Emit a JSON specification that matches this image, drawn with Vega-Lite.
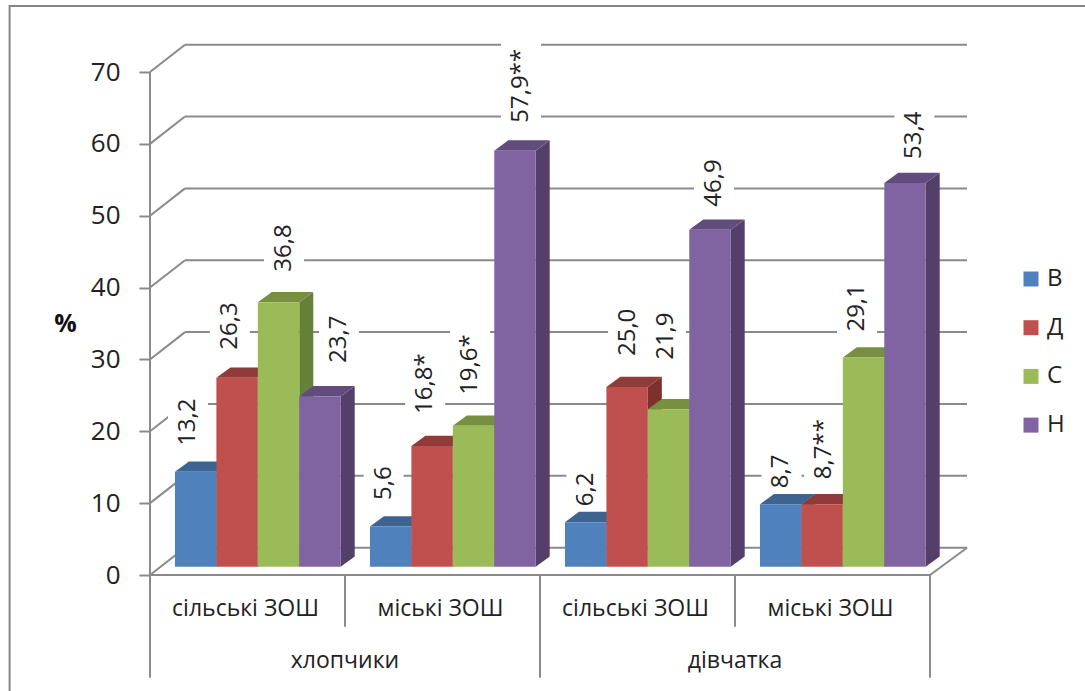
{
  "$schema": "https://vega.github.io/schema/vega-lite/v6.json",
  "autosize": {"type": "none"},
  "padding": {"left": 150, "top": 72, "right": 155, "bottom": 116},
  "width": 780,
  "height": 503,
  "background": "white",
  "config": {
    "font": "Open Sans",
    "view": {"stroke": null},
    "axisX": {"disable": true},
    "axisY": {
      "tickCount": 8, "grid": false, "domain": false,
      "tickColor": "#8a8a8a", "tickWidth": 2, "tickSize": 11, "labelFontSize": 26, "labelColor": "#222222", "labelPadding": 19,
      "titleAngle": 0, "titleFontSize": 25, "titleFontWeight": "bold", "titleColor": "#111111",
      "titleX": -85, "titleY": 251, "titleAlign": "center", "titleBaseline": "middle"
    }
  },
  "datasets": {
    "ticks": [{"tick": 0}, {"tick": 10}, {"tick": 20}, {"tick": 30}, {"tick": 40}, {"tick": 50}, {"tick": 60}, {"tick": 70}],
    "boundaries": [{"b": 0}, {"b": 1}, {"b": 2}, {"b": 3}, {"b": 4}]
  },
  "data": {
    "values": [
      {"group": "хлопчики", "school": "сільські ЗОШ", "series": "В", "value": 13.2, "label": "13,2"},
      {"group": "хлопчики", "school": "сільські ЗОШ", "series": "Д", "value": 26.3, "label": "26,3"},
      {"group": "хлопчики", "school": "сільські ЗОШ", "series": "С", "value": 36.8, "label": "36,8"},
      {"group": "хлопчики", "school": "сільські ЗОШ", "series": "Н", "value": 23.7, "label": "23,7"},
      {"group": "хлопчики", "school": "міські ЗОШ", "series": "В", "value": 5.6, "label": "5,6"},
      {"group": "хлопчики", "school": "міські ЗОШ", "series": "Д", "value": 16.8, "label": "16,8*"},
      {"group": "хлопчики", "school": "міські ЗОШ", "series": "С", "value": 19.6, "label": "19,6*"},
      {"group": "хлопчики", "school": "міські ЗОШ", "series": "Н", "value": 57.9, "label": "57,9**"},
      {"group": "дівчатка", "school": "сільські ЗОШ", "series": "В", "value": 6.2, "label": "6,2"},
      {"group": "дівчатка", "school": "сільські ЗОШ", "series": "Д", "value": 25.0, "label": "25,0"},
      {"group": "дівчатка", "school": "сільські ЗОШ", "series": "С", "value": 21.9, "label": "21,9"},
      {"group": "дівчатка", "school": "сільські ЗОШ", "series": "Н", "value": 46.9, "label": "46,9"},
      {"group": "дівчатка", "school": "міські ЗОШ", "series": "В", "value": 8.7, "label": "8,7"},
      {"group": "дівчатка", "school": "міські ЗОШ", "series": "Д", "value": 8.7, "label": "8,7**"},
      {"group": "дівчатка", "school": "міські ЗОШ", "series": "С", "value": 29.1, "label": "29,1"},
      {"group": "дівчатка", "school": "міські ЗОШ", "series": "Н", "value": 53.4, "label": "53,4"}
    ]
  },
  "transform": [
    {"calculate": "(datum.group === 'дівчатка' ? 2 : 0) + (datum.school === 'міські ЗОШ' ? 1 : 0)", "as": "cat"},
    {"calculate": "datum.cat + 0.128 + indexof(['В', 'Д', 'С', 'Н'], datum.series) * 0.2125", "as": "left"},
    {"calculate": "datum.left + 0.2125", "as": "right"},
    {"calculate": "0", "as": "base"}
  ],
  "layer": [
    {
      "description": "Outer chart border, running off the right and bottom edges",
      "data": {"values": [{"frame": "outer"}]},
      "transform": [
        {"calculate": "-0.72", "as": "x1"}, {"calculate": "4.9", "as": "x2"},
        {"calculate": "79.2", "as": "y1"}, {"calculate": "-18", "as": "y2"}
      ],
      "mark": {"type": "rect", "filled": false, "stroke": "#868686", "strokeWidth": 2},
      "encoding": {
        "x": {"field": "x1", "type": "quantitative", "scale": {"domain": [0, 4], "nice": false, "zero": false}},
        "x2": {"field": "x2"},
        "y": {"field": "y1", "type": "quantitative", "title": "%", "scale": {"domain": [0, 70], "nice": false, "zero": false}},
        "y2": {"field": "y2"}
      }
    },
    {
      "description": "Back wall gridlines",
      "data": {"name": "ticks"},
      "transform": [
        {"calculate": "datum.tick + 3.8", "as": "back"},
        {"calculate": "0.1795", "as": "x1"}, {"calculate": "4.19", "as": "x2"}
      ],
      "mark": {"type": "rule", "stroke": "#8a8a8a", "strokeWidth": 2},
      "encoding": {
        "x": {"field": "x1", "type": "quantitative", "scale": {"domain": [0, 4], "nice": false, "zero": false}},
        "x2": {"field": "x2"},
        "y": {"field": "back", "type": "quantitative", "title": "%", "scale": {"domain": [0, 70], "nice": false, "zero": false}}
      }
    },
    {
      "description": "Side wall gridlines",
      "data": {"name": "ticks"},
      "transform": [
        {"calculate": "datum.tick + 3.8", "as": "back"},
        {"calculate": "0", "as": "x1"}, {"calculate": "0.1795", "as": "x2"}
      ],
      "mark": {"type": "rule", "stroke": "#8a8a8a", "strokeWidth": 2},
      "encoding": {
        "x": {"field": "x1", "type": "quantitative", "scale": {"domain": [0, 4], "nice": false, "zero": false}},
        "x2": {"field": "x2"},
        "y": {"field": "tick", "type": "quantitative", "title": "%", "scale": {"domain": [0, 70], "nice": false, "zero": false}},
        "y2": {"field": "back"}
      }
    },
    {
      "description": "Right edge of the floor",
      "data": {"name": "ticks"},
      "transform": [
        {"filter": "datum.tick === 0"},
        {"calculate": "datum.tick + 3.8", "as": "back"},
        {"calculate": "4", "as": "x1"}, {"calculate": "4.19", "as": "x2"}
      ],
      "mark": {"type": "rule", "stroke": "#8a8a8a", "strokeWidth": 2},
      "encoding": {
        "x": {"field": "x1", "type": "quantitative", "scale": {"domain": [0, 4], "nice": false, "zero": false}},
        "x2": {"field": "x2"},
        "y": {"field": "tick", "type": "quantitative", "title": "%", "scale": {"domain": [0, 70], "nice": false, "zero": false}},
        "y2": {"field": "back"}
      }
    },
    {
      "description": "Front edge of the floor",
      "data": {"name": "ticks"},
      "transform": [
        {"filter": "datum.tick === 0"},
        {"calculate": "0", "as": "x1"}, {"calculate": "4", "as": "x2"}
      ],
      "mark": {"type": "rule", "stroke": "#8a8a8a", "strokeWidth": 2},
      "encoding": {
        "x": {"field": "x1", "type": "quantitative", "scale": {"domain": [0, 4], "nice": false, "zero": false}},
        "x2": {"field": "x2"},
        "y": {"field": "tick", "type": "quantitative", "title": "%", "scale": {"domain": [0, 70], "nice": false, "zero": false}}
      }
    },
    {
      "description": "Value axis line and category dividers below the floor",
      "data": {"name": "boundaries"},
      "transform": [
        {"calculate": "datum.b === 0 ? 70 : 0", "as": "top"},
        {"calculate": "datum.b % 2 === 0 ? -14.3 : -7.2", "as": "bottom"}
      ],
      "mark": {"type": "rule", "stroke": "#8a8a8a", "strokeWidth": 2},
      "encoding": {
        "x": {"field": "b", "type": "quantitative", "scale": {"domain": [0, 4], "nice": false, "zero": false}},
        "y": {"field": "top", "type": "quantitative", "title": "%", "scale": {"domain": [0, 70], "nice": false, "zero": false}},
        "y2": {"field": "bottom"}
      }
    },
    {
      "description": "White plates behind the value labels, which interrupt the gridlines",
      "transform": [
        {"calculate": "{'13,2':[-7.7,26],'26,3':[-7.3,28],'36,8':[5.5,30.5],'23,7':[19,33.5],'5,6':[-7,26.5],'16,8*':[-7,32],'19,6*':[-3.5,31],'57,9**':[6,28],'6,2':[0.7,16],'25,0':[1,31],'21,9':[-2.6,49.5],'46,9':[4,23],'53,4':[9.3,24],'8,7':[0.8,16],'8,7**':[2,25],'29,1':[-6.5,26]}[datum.label]", "as": "place"},
        {"calculate": "(datum.left + datum.right) / 2 + datum.place[0] / 195", "as": "labelX"},
        {"calculate": "datum.value + datum.place[1] / 7.186", "as": "labelY"},
        {"calculate": "datum.labelX - 20 / 195", "as": "plateL"},
        {"calculate": "datum.labelX + 20 / 195", "as": "plateR"},
        {"calculate": "datum.labelY - 5 / 7.186", "as": "plateB"},
        {"calculate": "datum.labelY + (length(datum.label) * 12 + 8) / 7.186", "as": "plateT"}
      ],
      "mark": {"type": "rect", "fill": "white", "yOffset": -8.3, "y2Offset": -8.3},
      "encoding": {
        "x": {"field": "plateL", "type": "quantitative", "scale": {"domain": [0, 4], "nice": false, "zero": false}},
        "x2": {"field": "plateR"},
        "y": {"field": "plateT", "type": "quantitative", "title": "%", "scale": {"domain": [0, 70], "nice": false, "zero": false}},
        "y2": {"field": "plateB"}
      }
    },
    {
      "description": "Right side faces of the bars",
      "transform": [
        {"calculate": "[0, 1]", "as": "k"},
        {"flatten": ["k"]},
        {"calculate": "datum.right + datum.k * 0.0718", "as": "fx"},
        {"calculate": "datum.value + datum.k * 1.433", "as": "fy"},
        {"calculate": "datum.k * 1.433", "as": "fy2"},
        {"calculate": "datum.series + '/side'", "as": "face"}
      ],
      "mark": {"type": "area", "orient": "vertical", "yOffset": -8.3, "y2Offset": -8.3},
      "encoding": {
        "x": {"field": "fx", "type": "quantitative", "scale": {"domain": [0, 4], "nice": false, "zero": false}},
        "y": {"field": "fy", "type": "quantitative", "title": "%", "scale": {"domain": [0, 70], "nice": false, "zero": false}},
        "y2": {"field": "fy2"},
        "detail": {"field": "label", "type": "nominal"},
        "color": {"field": "face", "type": "nominal",
          "legend": {
            "values": ["В", "Д", "С", "Н"],
            "title": null, "orient": "none", "legendX": 869, "legendY": 195,
            "symbolType": "square", "symbolSize": 225, "symbolStrokeWidth": 0, "symbolOpacity": 1,
            "labelFontSize": 24, "labelColor": "#222222", "labelOffset": 4, "rowPadding": 24.7
          }
        }
      }
    },
    {
      "description": "Top faces of the bars",
      "transform": [
        {"calculate": "[0, 1, 2, 3]", "as": "k"},
        {"flatten": ["k"]},
        {"calculate": "(datum.k < 2 ? datum.left : datum.right) + (datum.k % 2) * 0.0718", "as": "fx"},
        {"calculate": "datum.value + (datum.k > 0 ? 1.433 : 0)", "as": "fy"},
        {"calculate": "datum.value + (datum.k === 3 ? 1.433 : 0)", "as": "fy2"},
        {"calculate": "datum.series + '/top'", "as": "face"}
      ],
      "mark": {"type": "area", "orient": "vertical", "yOffset": -8.3, "y2Offset": -8.3},
      "encoding": {
        "x": {"field": "fx", "type": "quantitative", "scale": {"domain": [0, 4], "nice": false, "zero": false}},
        "y": {"field": "fy", "type": "quantitative", "title": "%", "scale": {"domain": [0, 70], "nice": false, "zero": false}},
        "y2": {"field": "fy2"},
        "detail": {"field": "label", "type": "nominal"},
        "color": {"field": "face", "type": "nominal",
          "legend": {
            "values": ["В", "Д", "С", "Н"],
            "title": null, "orient": "none", "legendX": 869, "legendY": 195,
            "symbolType": "square", "symbolSize": 225, "symbolStrokeWidth": 0, "symbolOpacity": 1,
            "labelFontSize": 24, "labelColor": "#222222", "labelOffset": 4, "rowPadding": 24.7
          }
        }
      }
    },
    {
      "description": "Front faces of the bars, with the series legend",
      "mark": {"type": "rect", "yOffset": -8.3, "y2Offset": -8.3},
      "encoding": {
        "x": {"field": "left", "type": "quantitative", "scale": {"domain": [0, 4], "nice": false, "zero": false}},
        "x2": {"field": "right"},
        "y": {"field": "value", "type": "quantitative", "title": "%", "scale": {"domain": [0, 70], "nice": false, "zero": false}},
        "y2": {"field": "base"},
        "color": {"field": "series", "type": "nominal",
          "scale": {
            "domain": ["В", "Д", "С", "Н", "В/side", "Д/side", "С/side", "Н/side", "В/top", "Д/top", "С/top", "Н/top"],
            "range": ["#4f81bd", "#c0504d", "#9bbb59", "#8064a2", "#355a85", "#7e302e", "#66803a", "#533f69", "#3d6491", "#903b39", "#76903f", "#624c7e"]
          },
          "legend": {
            "values": ["В", "Д", "С", "Н"],
            "title": null, "orient": "none", "legendX": 869, "legendY": 195,
            "symbolType": "square", "symbolSize": 225, "symbolStrokeWidth": 0, "symbolOpacity": 1,
            "labelFontSize": 24, "labelColor": "#222222", "labelOffset": 4, "rowPadding": 24.7
          }
        }
      }
    },
    {
      "description": "Value labels",
      "transform": [
        {"calculate": "{'13,2':[-7.7,26],'26,3':[-7.3,28],'36,8':[5.5,30.5],'23,7':[19,33.5],'5,6':[-7,26.5],'16,8*':[-7,32],'19,6*':[-3.5,31],'57,9**':[6,28],'6,2':[0.7,16],'25,0':[1,31],'21,9':[-2.6,49.5],'46,9':[4,23],'53,4':[9.3,24],'8,7':[0.8,16],'8,7**':[2,25],'29,1':[-6.5,26]}[datum.label]", "as": "place"},
        {"calculate": "(datum.left + datum.right) / 2 + datum.place[0] / 195", "as": "labelX"},
        {"calculate": "datum.value + datum.place[1] / 7.186", "as": "labelY"}
      ],
      "mark": {"type": "text", "angle": 270, "align": "left", "baseline": "middle", "fontSize": 24, "fill": "#222222", "yOffset": -8.3},
      "encoding": {
        "x": {"field": "labelX", "type": "quantitative", "scale": {"domain": [0, 4], "nice": false, "zero": false}},
        "y": {"field": "labelY", "type": "quantitative", "title": "%", "scale": {"domain": [0, 70], "nice": false, "zero": false}},
        "text": {"field": "label", "type": "nominal"}
      }
    },
    {
      "description": "School type labels",
      "transform": [
        {"aggregate": [{"op": "min", "field": "cat", "as": "cat"}], "groupby": ["group", "school"]},
        {"calculate": "datum.cat + 0.5", "as": "mid"},
        {"calculate": "-4.73", "as": "row"}
      ],
      "mark": {"type": "text", "align": "center", "baseline": "middle", "fontSize": 23, "fill": "#222222", "dx": -2},
      "encoding": {
        "x": {"field": "mid", "type": "quantitative", "scale": {"domain": [0, 4], "nice": false, "zero": false}},
        "y": {"field": "row", "type": "quantitative", "title": "%", "scale": {"domain": [0, 70], "nice": false, "zero": false}},
        "text": {"field": "school", "type": "nominal"}
      }
    },
    {
      "description": "Sex labels",
      "transform": [
        {"aggregate": [{"op": "min", "field": "cat", "as": "cat"}], "groupby": ["group"]},
        {"calculate": "datum.cat + 1", "as": "mid"},
        {"calculate": "-12", "as": "row"}
      ],
      "mark": {"type": "text", "align": "center", "baseline": "middle", "fontSize": 23, "fill": "#222222"},
      "encoding": {
        "x": {"field": "mid", "type": "quantitative", "scale": {"domain": [0, 4], "nice": false, "zero": false}},
        "y": {"field": "row", "type": "quantitative", "title": "%", "scale": {"domain": [0, 70], "nice": false, "zero": false}},
        "text": {"field": "group", "type": "nominal"}
      }
    }
  ]
}
